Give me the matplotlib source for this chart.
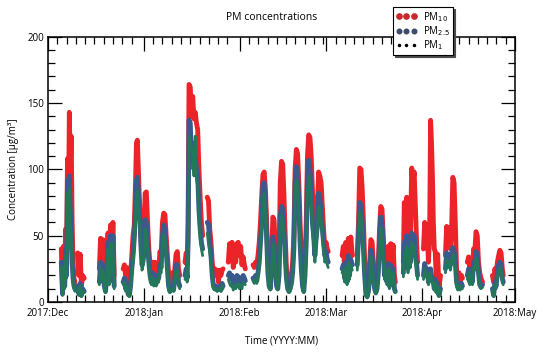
import numpy as np
import pandas as pd
import matplotlib
matplotlib.use("Agg")
import matplotlib.pyplot as plt
import matplotlib.dates as mdates
from matplotlib.lines import Line2D

nan = np.nan

# ---------------- Data (days since 2017-12-01, values in ug/m3) ----------------
days = [
    4.3, 4.7, 5.0, 5.4, 5.7, 6.0, 6.3, 6.6, 6.9, 7.2, 7.5, 7.8, 8.1, 8.4, 8.7, 9.0,
    9.6, 10.0, 10.4, 10.8, 11.2, 11.7, 12.0,
    16.6, 17.0, 17.4, 17.8, 18.2, 18.6, 19.0, 19.4, 19.8, 20.2, 20.6, 21.0, 21.4, 22.0,
    24.3, 24.7, 25.1, 25.5, 25.9, 26.3, 26.7, 27.1, 27.5, 27.9, 28.3, 28.6, 28.9, 29.2,
    29.5, 29.8, 30.1, 30.4, 31.0, 31.4, 31.8, 32.2, 32.6, 33.0, 33.4, 33.8, 34.2, 34.6,
    35.0, 35.4, 35.8, 36.2, 36.6, 37.0, 37.4, 37.8, 38.2, 38.6, 39.0, 39.4, 39.8, 40.2,
    40.6, 41.0, 41.4, 41.8, 42.2, 42.6, 43.0,
    44.3, 44.7, 45.0, 45.3, 45.6, 46.0, 46.4, 46.8, 47.2, 47.6, 48.0, 48.4, 48.8, 49.2,
    49.6, 50.0, 50.5,
    51.5, 51.9, 52.3, 52.7, 53.1, 53.5, 53.9, 54.3, 54.7, 55.1, 55.5, 55.9, 56.3, 56.6, 57.0,
    58.3, 58.7, 59.1, 59.5, 59.9, 60.3, 60.7, 61.1, 61.5, 61.9, 62.3, 62.7, 63.1, 63.5, 63.8, 64.5,
    66.3, 66.7, 67.1, 67.5, 67.9, 68.3, 68.7, 69.1, 69.5, 69.9, 70.3, 70.7, 71.1, 71.5,
    71.9, 72.3, 72.7, 73.1, 73.5, 73.9, 74.3, 74.7, 75.1, 75.5, 75.9, 76.3, 76.7, 77.1,
    77.5, 77.9, 78.3, 78.7, 79.1, 79.5, 79.9, 80.3, 80.7, 81.1, 81.5, 81.9, 82.3, 82.7,
    83.1, 83.5, 83.9, 84.3, 84.7, 85.1, 85.5, 85.9, 86.3, 86.7, 87.1, 87.5, 87.9, 88.3,
    88.7, 89.1, 89.5, 89.9, 90.3, 90.6, 91.5,
    95.1, 95.5, 95.9, 96.3, 96.7, 97.1, 97.5, 97.9, 98.4, 99.0,
    100.0, 100.4, 100.8, 101.2, 101.6, 102.0, 102.4, 102.8, 103.2, 103.6, 104.0, 104.4,
    104.8, 105.2, 105.6, 106.0, 106.4, 106.8, 107.2, 107.6, 108.0, 108.4, 108.8, 109.2,
    109.6, 110.0, 110.4, 110.8, 111.2, 111.6, 112.0, 112.3, 113.0,
    114.9, 115.2, 115.6, 116.0, 116.4, 116.8, 117.2, 117.6, 118.0, 118.4, 118.8, 119.2, 119.5, 120.0,
    121.4, 121.8, 122.2, 122.6, 123.0, 123.4, 123.7, 124.0, 124.3, 124.6, 124.9, 125.2,
    125.6, 126.0, 126.4, 126.9, 127.5,
    128.5, 128.9, 129.3, 129.7, 130.1, 130.5, 130.9, 131.3, 131.7, 132.1, 132.5, 132.9,
    133.3, 133.7, 134.0, 134.8,
    135.6, 136.0, 136.4, 136.8, 137.2, 137.6, 138.0, 138.4, 138.8, 139.2, 139.6, 140.0, 140.5, 141.5,
    143.7, 144.1, 144.5, 144.9, 145.3, 145.7, 146.1, 146.5, 146.9, 147.2,
]

pm10 = [
    40, 12, 42, 20, 55, 30, 108, 60, 143, 100, 125, 60, 30, 18, 15, nan,
    37, 20, 36, 12, 20, 18, nan,
    25, 48, 30, 47, 20, 10, 30, 52, 25, 58, 35, 60, 20, nan,
    25, 28, 20, 26, 12, 10, 20, 35, 50, 58, 90, 120, 122, 100,
    80, 65, 45, 35, 45, 82, 83, 60, 40, 28, 20, 30, 22, 30,
    18, 28, 25, 38, 35, 60, 67, 66, 50, 35, 22, 12, 18, 22,
    15, 25, 36, 38, 25, 20, nan,
    30, 37, 28, 60, 164, 162, 140, 155, 138, 143, 135, 130, 100, 79,
    60, 50, nan,
    79, 76, 55, 45, 30, 22, 25, 20, 24, 15, 24, 20, 24, 25, nan,
    30, 44, 35, 45, 26, 40, 30, 44, 45, 35, 42, 28, 34, 28, 25, nan,
    28, 26, 30, 28, 35, 45, 60, 80, 96, 98, 85, 60, 30, 24,
    20, 35, 64, 62, 40, 22, 15, 30, 90, 106, 104, 80, 50, 25,
    15, 12, 14, 20, 30, 50, 100, 115, 112, 90, 60, 35, 20, 15,
    30, 60, 110, 126, 124, 110, 85, 70, 45, 60, 72, 98, 95, 90,
    72, 55, 41, 45, 40, 38, nan,
    35, 42, 25, 45, 22, 48, 30, 49, 35, nan,
    35, 60, 101, 100, 85, 60, 30, 10, 5, 12, 30, 47,
    45, 30, 18, 10, 15, 30, 55, 72, 70, 50, 30, 40,
    25, 42, 20, 44, 30, 43, 20, 15, nan,
    30, 75, 60, 79, 40, 72, 50, 101, 90, 98, 70, 44, 30, nan,
    40, 60, 45, 58, 30, 50, 137, 120, 95, 60, 40, 38,
    15, 36, 10, 20, nan,
    35, 57, 45, 56, 40, 55, 94, 90, 60, 24, 20, 22,
    15, 20, 18, nan,
    30, 34, 25, 33, 20, 40, 38, 53, 50, 30, 22, 18, 15, nan,
    20, 15, 25, 20, 30, 35, 39, 37, 25, 20,
]

pm25 = [
    30, 6, 30, 12, 40, 20, 92, 45, 95, 70, 60, 30, 18, 12, 10, nan,
    12, 6, 14, 5, 10, 8, nan,
    15, 30, 18, 28, 12, 8, 20, 45, 15, 50, 25, 50, 12, nan,
    15, 18, 10, 14, 6, 5, 12, 25, 35, 48, 70, 92, 94, 85,
    70, 60, 40, 28, 35, 62, 60, 45, 30, 20, 15, 22, 14, 20,
    14, 20, 18, 28, 26, 50, 58, 55, 40, 25, 12, 8, 10, 12,
    9, 18, 28, 28, 15, 12, nan,
    20, 25, 18, 45, 137, 135, 105, 120, 100, 110, 100, 95, 70, 55,
    45, 40, nan,
    60, 58, 45, 35, 20, 12, 10, 12, 9, 10, 12, 9, 14, 12, nan,
    20, 22, 18, 20, 12, 18, 15, 20, 19, 15, 18, 14, 20, 18, 16, nan,
    18, 16, 20, 16, 22, 30, 45, 60, 88, 90, 75, 48, 22, 12,
    10, 25, 49, 45, 28, 12, 10, 20, 65, 72, 70, 55, 35, 18,
    10, 8, 10, 14, 22, 40, 90, 102, 98, 75, 45, 25, 12, 8,
    20, 45, 95, 107, 100, 85, 60, 50, 35, 48, 58, 82, 78, 70,
    55, 45, 35, 38, 32, 30, nan,
    25, 28, 18, 30, 15, 35, 20, 32, 28, nan,
    28, 50, 75, 72, 60, 40, 20, 6, 4, 8, 18, 39,
    35, 20, 10, 7, 10, 22, 45, 64, 60, 40, 20, 28,
    15, 29, 12, 28, 15, 25, 10, 8, nan,
    22, 45, 40, 50, 25, 48, 30, 52, 45, 50, 35, 28, 20, nan,
    20, 29, 22, 25, 15, 20, 25, 20, 18, 15, 10, 17,
    8, 14, 5, 10, nan,
    25, 37, 30, 36, 28, 35, 41, 39, 30, 15, 11, 14,
    11, 14, 12, nan,
    20, 25, 15, 24, 15, 30, 28, 38, 36, 22, 13, 12, 13, nan,
    10, 5, 15, 12, 22, 28, 30, 28, 18, 15,
]

pm1 = [
    26, 5, 26, 10, 35, 18, 82, 40, 85, 60, 52, 26, 15, 10, 8, nan,
    10, 5, 12, 4, 8, 7, nan,
    13, 26, 16, 24, 10, 7, 18, 40, 13, 44, 22, 44, 10, nan,
    13, 15, 8, 12, 5, 4, 10, 22, 30, 42, 62, 82, 84, 76,
    62, 52, 35, 24, 30, 55, 52, 40, 26, 17, 13, 19, 12, 17,
    12, 17, 15, 24, 22, 44, 51, 48, 35, 22, 10, 7, 8, 10,
    8, 15, 24, 24, 13, 10, nan,
    17, 22, 15, 40, 125, 122, 115, 110, 95, 125, 92, 88, 62, 48,
    40, 35, nan,
    52, 44, 38, 30, 17, 10, 9, 10, 8, 9, 10, 8, 12, 10, nan,
    17, 14, 12, 13, 9, 12, 10, 14, 12, 10, 13, 10, 15, 14, 13, nan,
    16, 14, 17, 14, 19, 26, 40, 55, 80, 82, 68, 42, 19, 10,
    9, 22, 44, 40, 24, 10, 9, 17, 58, 65, 62, 48, 30, 15,
    9, 7, 8, 12, 19, 35, 80, 92, 88, 66, 40, 22, 10, 7,
    17, 40, 85, 95, 90, 76, 52, 44, 30, 42, 52, 72, 70, 62,
    50, 40, 30, 33, 28, 26, nan,
    22, 24, 15, 26, 13, 30, 17, 28, 24, nan,
    24, 44, 68, 65, 54, 35, 17, 5, 3, 7, 15, 34,
    30, 17, 9, 6, 9, 19, 40, 56, 52, 35, 17, 24,
    13, 25, 10, 24, 13, 22, 8, 7, nan,
    19, 38, 34, 42, 22, 40, 26, 45, 39, 42, 30, 24, 17, nan,
    17, 25, 19, 21, 13, 17, 22, 17, 15, 13, 9, 15,
    7, 12, 4, 9, nan,
    22, 32, 26, 31, 24, 30, 36, 34, 26, 13, 9, 12,
    9, 12, 10, nan,
    17, 22, 13, 21, 13, 26, 24, 33, 31, 19, 11, 10, 11, nan,
    9, 4, 13, 10, 19, 24, 26, 24, 15, 13,
]

month_ticks = ["2017-12-01", "2018-01-01", "2018-02-01", "2018-03-01", "2018-04-01", "2018-05-01"]

# ---------------- Figure ----------------
plt.rcParams["font.family"] = ["Open Sans", "DejaVu Sans"]

t0 = pd.Timestamp("2017-12-01")
time = t0 + pd.to_timedelta(np.array(days), unit="D")

fig = plt.figure(figsize=(5.44, 3.54), dpi=100)
ax = fig.add_axes([48 / 544, 1 - 302 / 354, (515 - 48) / 544, (302 - 36.7) / 354])

red = "#ec2328"
blue = "#3a5a8e"
green = "#23785a"

kw = dict(solid_capstyle="round", solid_joinstyle="round")
ax.plot(time, pm10, color=red, lw=3.5, **kw)
ax.plot(time, pm25, color=blue, lw=3.5, **kw)
ax.plot(time, pm1, color=green, lw=2.0, **kw)

ax.set_xlim(pd.Timestamp(month_ticks[0]), pd.Timestamp(month_ticks[-1]))
ax.set_ylim(0, 200)

ax.set_yticks(np.arange(0, 201, 50))
ax.set_yticks(np.arange(0, 201, 10), minor=True)
ax.xaxis.set_major_locator(mdates.MonthLocator())
ax.xaxis.set_major_formatter(mdates.DateFormatter("%Y:%b"))
ax.xaxis.set_minor_locator(mdates.DayLocator(bymonthday=range(4, 31, 3)))

ax.tick_params(which="both", direction="in", top=True, right=True,
               labelsize=7, width=0.9, color="black")
ax.tick_params(which="major", length=10, pad=3)
ax.tick_params(which="minor", length=5)
ax.tick_params(axis="x", which="major", pad=4)
for s in ax.spines.values():
    s.set_linewidth(1.1)

ax.set_ylabel("Concentration [μg/m³]", fontsize=7, labelpad=6)
ax.set_xlabel("Time (YYYY:MM)", fontsize=7, labelpad=12)
fig.text(0.5, 1 - 18 / 354, "PM concentrations", ha="center", va="center", fontsize=7.5)

# legend (PM1 shown as small black dots, as in the original)
handles = [
    Line2D([], [], ls="none", marker="o", ms=3.8, color="#c8282c"),
    Line2D([], [], ls="none", marker="o", ms=3.3, color="#3c4a6e"),
    Line2D([], [], ls="none", marker="o", ms=1.5, color="black"),
]
labels = ["PM$_{10}$", "PM$_{2.5}$", "PM$_{1}$"]
leg = fig.legend(handles, labels, loc="upper left",
                 bbox_to_anchor=(388 / 544, 1 - 2 / 354), numpoints=3,
                 fontsize=7, frameon=True, fancybox=False,
                 shadow={"ox": 1.5, "oy": -1.5, "color": "0.3", "alpha": 1},
                 handlelength=2.2, handletextpad=0.6, borderpad=0.3,
                 labelspacing=0.05, markerscale=1.0)
leg.get_frame().set_edgecolor("black")
leg.get_frame().set_linewidth(0.8)
leg.set_zorder(10)

fig.savefig("out.png", dpi=100)
